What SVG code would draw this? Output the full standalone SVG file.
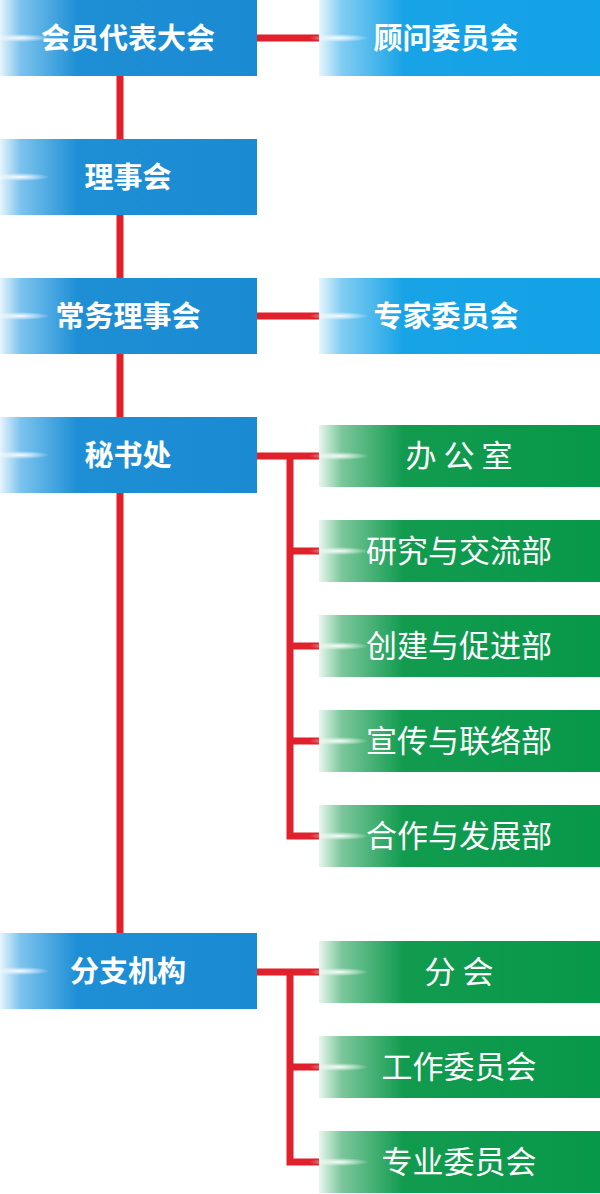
<svg xmlns="http://www.w3.org/2000/svg" width="600" height="1194" viewBox="0 0 600 1194">
<defs>
<linearGradient id="gb" x1="0" y1="0" x2="1" y2="0"><stop offset="0" stop-color="#e6f4fc"/><stop offset="0.08" stop-color="#7cc3ee"/><stop offset="0.3" stop-color="#1e8fd5"/><stop offset="1" stop-color="#1a8ad2"/></linearGradient>
<linearGradient id="gl" x1="0" y1="0" x2="1" y2="0"><stop offset="0" stop-color="#e6f6fd"/><stop offset="0.08" stop-color="#82cdf2"/><stop offset="0.3" stop-color="#18a3e6"/><stop offset="1" stop-color="#12a2e6"/></linearGradient>
<linearGradient id="gg" x1="0" y1="0" x2="1" y2="0"><stop offset="0" stop-color="#e8f6ee"/><stop offset="0.08" stop-color="#7cc79c"/><stop offset="0.3" stop-color="#129b4f"/><stop offset="1" stop-color="#08984a"/></linearGradient>
<radialGradient id="glow"><stop offset="0" stop-color="#fff" stop-opacity="0.95"/><stop offset="1" stop-color="#fff" stop-opacity="0"/></radialGradient>
</defs>
<style>
.b{font-family:"Noto Sans CJK SC",sans-serif;font-weight:bold;font-size:29px;fill:#fff;text-anchor:middle}
.g{font-family:"Noto Sans CJK SC",sans-serif;font-size:31px;fill:#fff;text-anchor:middle}
.c{stroke:#e0212b;stroke-width:7;fill:none}
</style>
<g id="connectors">
<path class="c" d="M120 76V933M257 38H319M257 316H319M257 456H319M290 456V836H319M290 551H319M290 646H319M290 741H319M257 972H319M290 972V1162H319M290 1067H319"/>
</g>
<g id="n1"><rect x="0" y="0" width="257" height="76" fill="url(#gb)"/><ellipse cx="20" cy="38" rx="30" ry="4" fill="url(#glow)"/><text class="b" x="128" y="49">会员代表大会</text></g>
<g id="n2"><rect x="319" y="0" width="281" height="76" fill="url(#gl)"/><ellipse cx="339" cy="38" rx="30" ry="4" fill="url(#glow)"/><text class="b" x="446" y="49">顾问委员会</text></g>
<g id="n3"><rect x="0" y="139" width="257" height="76" fill="url(#gb)"/><ellipse cx="20" cy="177" rx="30" ry="4" fill="url(#glow)"/><text class="b" x="128" y="188">理事会</text></g>
<g id="n4"><rect x="0" y="278" width="257" height="76" fill="url(#gb)"/><ellipse cx="20" cy="316" rx="30" ry="4" fill="url(#glow)"/><text class="b" x="128" y="327">常务理事会</text></g>
<g id="n5"><rect x="319" y="278" width="281" height="76" fill="url(#gl)"/><ellipse cx="339" cy="316" rx="30" ry="4" fill="url(#glow)"/><text class="b" x="446" y="327">专家委员会</text></g>
<g id="n6"><rect x="0" y="417" width="257" height="76" fill="url(#gb)"/><ellipse cx="20" cy="455" rx="30" ry="4" fill="url(#glow)"/><text class="b" x="128" y="466">秘书处</text></g>
<g id="n7"><rect x="0" y="933" width="257" height="76" fill="url(#gb)"/><ellipse cx="20" cy="971" rx="30" ry="4" fill="url(#glow)"/><text class="b" x="128" y="982">分支机构</text></g>
<g id="g1"><rect x="319" y="425" width="281" height="62" fill="url(#gg)"/><ellipse cx="339" cy="456" rx="30" ry="4" fill="url(#glow)"/><text class="g" x="459" y="467">办 公 室</text></g>
<g id="g2"><rect x="319" y="520" width="281" height="62" fill="url(#gg)"/><ellipse cx="339" cy="551" rx="30" ry="4" fill="url(#glow)"/><text class="g" x="459" y="562">研究与交流部</text></g>
<g id="g3"><rect x="319" y="615" width="281" height="62" fill="url(#gg)"/><ellipse cx="339" cy="646" rx="30" ry="4" fill="url(#glow)"/><text class="g" x="459" y="657">创建与促进部</text></g>
<g id="g4"><rect x="319" y="710" width="281" height="62" fill="url(#gg)"/><ellipse cx="339" cy="741" rx="30" ry="4" fill="url(#glow)"/><text class="g" x="459" y="752">宣传与联络部</text></g>
<g id="g5"><rect x="319" y="805" width="281" height="62" fill="url(#gg)"/><ellipse cx="339" cy="836" rx="30" ry="4" fill="url(#glow)"/><text class="g" x="459" y="847">合作与发展部</text></g>
<g id="g6"><rect x="319" y="941" width="281" height="62" fill="url(#gg)"/><ellipse cx="339" cy="972" rx="30" ry="4" fill="url(#glow)"/><text class="g" x="459" y="983">分  会</text></g>
<g id="g7"><rect x="319" y="1036" width="281" height="62" fill="url(#gg)"/><ellipse cx="339" cy="1067" rx="30" ry="4" fill="url(#glow)"/><text class="g" x="459" y="1078">工作委员会</text></g>
<g id="g8"><rect x="319" y="1131" width="281" height="62" fill="url(#gg)"/><ellipse cx="339" cy="1162" rx="30" ry="4" fill="url(#glow)"/><text class="g" x="459" y="1173">专业委员会</text></g>
</svg>
